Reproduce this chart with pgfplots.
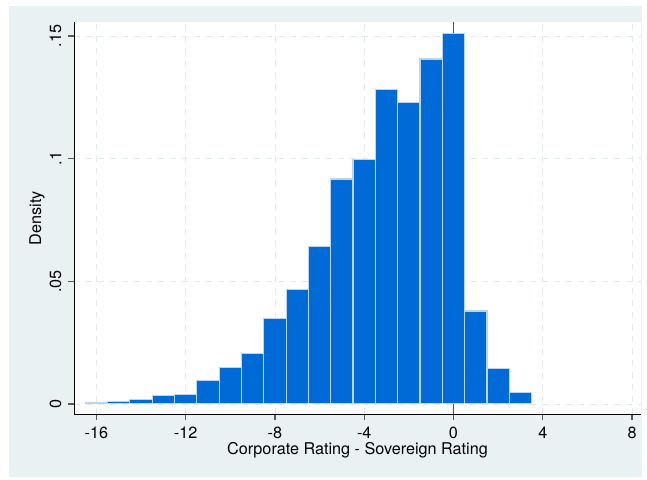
\documentclass[border=0pt]{standalone}
\usepackage{pgfplots}
\pgfplotsset{compat=1.18}
\usepackage{fontspec}
\setmainfont{TeX Gyre Heros}

\definecolor{statabg}{RGB}{234,241,243}
\definecolor{barblue}{RGB}{0,106,214}
\definecolor{baredge}{RGB}{185,212,244}
\definecolor{gridc}{RGB}{226,234,237}
\definecolor{refred}{RGB}{220,20,60}
\newcommand{\chartfont}{\fontsize{16.2}{19}\selectfont}

\begin{document}
\begin{tikzpicture}
\useasboundingbox (0,0) rectangle (647pt,479pt);
\fill[white] (0,0) rectangle (647pt,479pt);
\fill[statabg] (9pt,2pt) rectangle (642pt,473pt);
\begin{axis}[
    at={(74pt,65pt)}, anchor=south west,
    scale only axis, width=567pt, height=392pt,
    xmin=-17, xmax=8.4, ymin=-0.0041, ymax=0.1557,
    axis lines*=left,
    axis line style={black, line width=0.9pt},
    axis background/.style={fill=white},
    xtick={-16,-12,-8,-4,0,4,8},
    xticklabels={-16,-12,-8,-4,0,4,8},
    ytick={0,0.05,0.1,0.15},
    yticklabels={0,.05,.1,.15},
    tick align=outside,
    major tick length=6pt,
    tick style={black!65, line width=1.2pt},
    grid=major,
    major grid style={gridc, dash pattern=on 6pt off 6pt, line width=0.8pt},
    tick label style={font=\chartfont},
    xticklabel style={anchor=north, inner sep=0pt},
    yticklabel style={rotate=90, anchor=south, inner sep=0pt},
    xticklabel shift=6.5pt,
    yticklabel shift=6.5pt,
    label style={font=\chartfont},
    xlabel={Corporate Rating - Sovereign Rating},
    ylabel={Density},
    xlabel style={at={(axis description cs:0.5,-0.1035)}, anchor=base, inner sep=0pt},
    ylabel style={at={(axis description cs:-0.058,0.5)}, anchor=base, inner sep=0pt},
]
  % reference line at zero, behind the bars
  \addplot[color=refred, solid, line width=1.6pt, forget plot] coordinates {(0,-0.0041) (0,0.1557)};

  \addplot[ybar interval, fill=barblue, draw=baredge, line width=1.1pt] coordinates {
    (-16.5, 0.0007)
    (-15.5, 0.0010)
    (-14.5, 0.0018)
    (-13.5, 0.0034)
    (-12.5, 0.0039)
    (-11.5, 0.0095)
    (-10.5, 0.0147)
    (-9.5, 0.0207)
    (-8.5, 0.0348)
    (-7.5, 0.0466)
    (-6.5, 0.0640)
    (-5.5, 0.0917)
    (-4.5, 0.0997)
    (-3.5, 0.1282)
    (-2.5, 0.1229)
    (-1.5, 0.1406)
    (-0.5, 0.1509)
    (0.5, 0.0379)
    (1.5, 0.0145)
    (2.5, 0.0045)
    (3.5, 0)
  };
\end{axis}
\end{tikzpicture}
\end{document}
